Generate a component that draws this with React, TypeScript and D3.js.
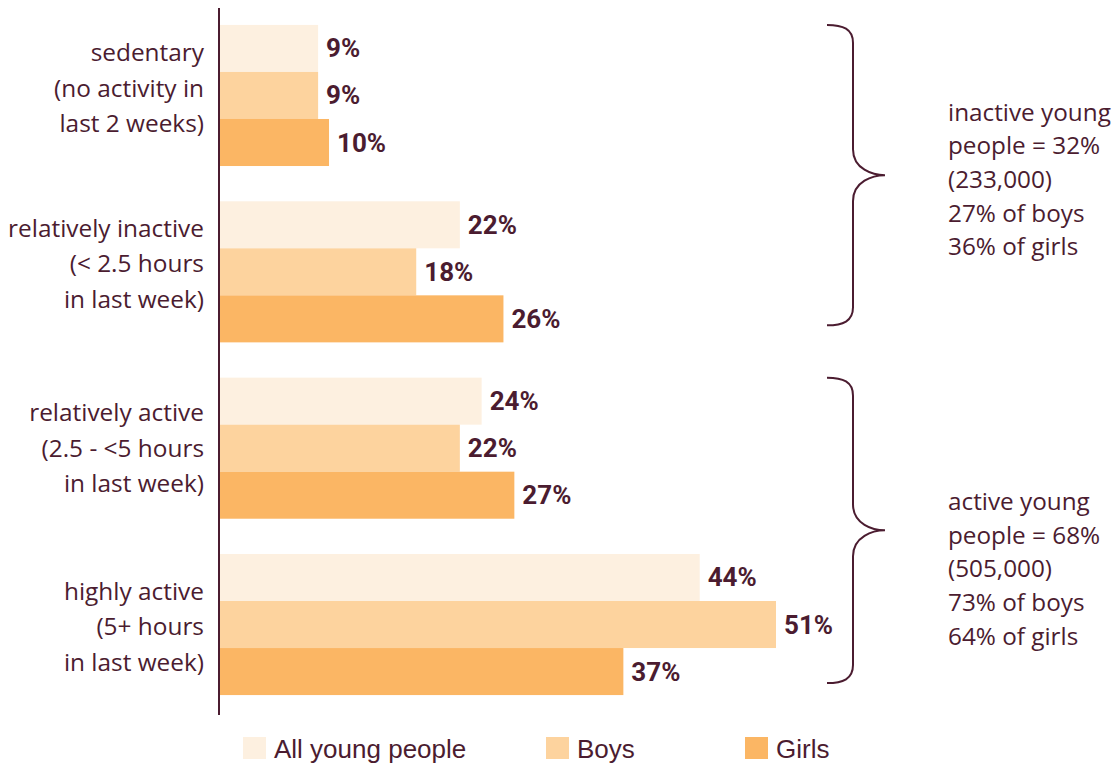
import React from "react";
import * as d3 from "d3";

const categories = ["sedentary", "relatively inactive", "relatively active", "highly active"];
const categoryLines = [
  ["sedentary", "(no activity in", "last 2 weeks)"],
  ["relatively inactive", "(< 2.5 hours", "in last week)"],
  ["relatively active", "(2.5 - <5 hours", "in last week)"],
  ["highly active", "(5+ hours", "in last week)"],
];
const seriesNames = ["All young people", "Boys", "Girls"];
const allYoung = [9, 22, 24, 44];
const boys = [9, 18, 22, 51];
const girls = [10, 26, 27, 37];
const seriesValues = [allYoung, boys, girls];
const inactiveNote = ["inactive young", "people = 32%", "(233,000)", "27% of boys", "36% of girls"];
const activeNote = ["active young", "people = 68%", "(505,000)", "73% of boys", "64% of girls"];

const colors = ["#fdf0e0", "#fdd39e", "#fbb664"];
const ink = "#4b1c30";
const labelFont = "'Open Sans', Lato, sans-serif";
const valueFont = "Roboto, sans-serif";

function bracePath(x0: number, x1: number, xt: number, yTop: number, yBot: number) {
  const yMid = (yTop + yBot) / 2;
  return [
    `M${x0},${yTop}`,
    `C${x0 + 16},${yTop} ${x1},${yTop + 4} ${x1},${yTop + 18}`,
    `L${x1},${yMid - 26}`,
    `C${x1},${yMid - 6} ${xt - 12},${yMid} ${xt},${yMid}`,
    `C${xt - 12},${yMid} ${x1},${yMid + 6} ${x1},${yMid + 26}`,
    `L${x1},${yBot - 18}`,
    `C${x1},${yBot - 4} ${x0 + 16},${yBot} ${x0},${yBot}`,
  ].join(" ");
}

export default function App() {
  const width = 1120;
  const height = 765;
  const x = d3.scaleLinear().domain([0, 51]).range([220, 776]);
  const y = d3.scaleBand<string>().domain(categories).range([7.3, 712.7]).paddingInner(0.2).paddingOuter(0.1);
  const sub = d3.scaleBand<string>().domain(seriesNames).range([0, y.bandwidth()]);
  const labelShift = [-8, -9, -1, 1];
  const lineGap = 35.5;

  const braceX0 = 827, braceX1 = 853, braceXt = 885;
  const topBrace = { y0: y(categories[0])!, y1: y(categories[1])! + y.bandwidth() - 17 };
  const botBrace = { y0: y(categories[2])!, y1: y(categories[3])! + y.bandwidth() - 12 };
  const noteShift = [-64, -30];

  return (
    <svg width={width} height={height} style={{ position: "absolute", left: 0, top: 0 }}>
      <rect width={width} height={height} fill="#fff" />
      {seriesNames.map((s, si) =>
        categories.map((c, ci) => {
          const v = seriesValues[si][ci];
          const yy = y(c)! + sub(s)!;
          return (
            <g key={s + c}>
              <rect x={x(0)} y={yy} width={x(v) - x(0)} height={sub.bandwidth()} fill={colors[si]} />
              <text
                x={x(v) + 8}
                y={yy + sub.bandwidth() / 2}
                dominantBaseline="central"
                fontFamily={valueFont}
                fontWeight="bold"
                fontSize={26}
                fill={ink}
              >
                {v}%
              </text>
            </g>
          );
        })
      )}
      <line x1={219} x2={219} y1={8} y2={715} stroke={ink} strokeWidth={2} />
      {categories.map((c, ci) => {
        const cy = y(c)! + y.bandwidth() / 2 + labelShift[ci];
        return (
          <text key={c} fontFamily={labelFont} fontSize={24.4} fill={ink} textAnchor="end">
            {categoryLines[ci].map((line, li) => (
              <tspan key={li} x={204} y={cy + (li - 1) * lineGap} dominantBaseline="central">
                {line}
              </tspan>
            ))}
          </text>
        );
      })}
      <path d={bracePath(braceX0, braceX1, braceXt, topBrace.y0, topBrace.y1)} fill="none" stroke={ink} strokeWidth={2} />
      <path d={bracePath(braceX0, braceX1, braceXt, botBrace.y0, botBrace.y1)} fill="none" stroke={ink} strokeWidth={2} />
      {[{ lines: inactiveNote, b: topBrace }, { lines: activeNote, b: botBrace }].map((n, ni) => {
        const mid = (n.b.y0 + n.b.y1) / 2;
        return (
          <text key={ni} fontFamily={labelFont} fontSize={24.3} fill={ink}>
            {n.lines.map((l, li) => (
              <tspan key={li} x={948} y={mid + noteShift[ni] + li * 33.7} dominantBaseline="central">
                {l}
              </tspan>
            ))}
          </text>
        );
      })}
      {seriesNames.map((s, si) => {
        const lx = [243, 546, 745][si];
        return (
          <g key={s}>
            <rect x={lx} y={737} width={23} height={22} fill={colors[si]} />
            <text x={lx + 31} y={749} dominantBaseline="central" fontFamily="'Liberation Sans', Arial, sans-serif" fontSize={26} fill={ink}>
              {s}
            </text>
          </g>
        );
      })}
    </svg>
  );
}
